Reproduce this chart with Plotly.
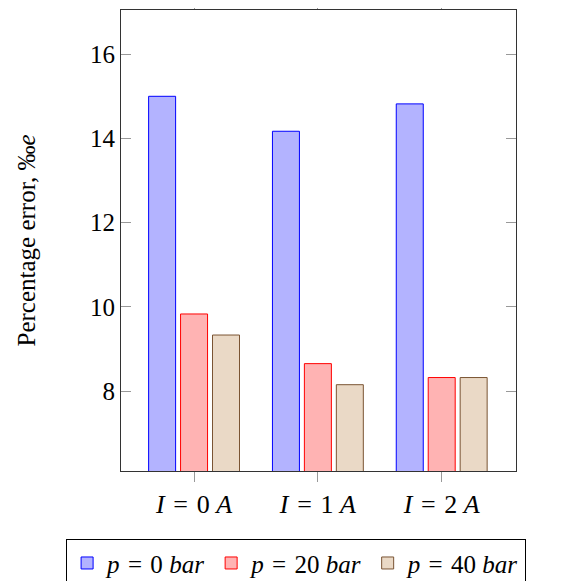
import plotly.graph_objects as go

S = "\u2004"  # three-per-em space, to mimic math spacing around "="
categories = [f"<i>I</i>{S}={S}0 <i>A</i>", f"<i>I</i>{S}={S}1 <i>A</i>", f"<i>I</i>{S}={S}2 <i>A</i>"]
cat_pos = [0, 1, 2]
series_names = [f"<i>p</i>{S}={S}0 <i>bar</i>", f"<i>p</i>{S}={S}20 <i>bar</i>", f"<i>p</i>{S}={S}40 <i>bar</i>"]
p0_values = [15.0, 14.17, 14.82]
p20_values = [9.83, 8.65, 8.32]
p40_values = [9.33, 8.15, 8.32]
y_ticks = [8, 10, 12, 14, 16]
y_title = "Percentage error, ‰<i>e</i>"

fills = ["#b3b3ff", "#ffb3b3", "#ead9c6"]
lines = ["#0000ff", "#ff0000", "#7a5433"]
offsets = [-0.367, -0.109, 0.149]
bar_w = 0.218

FONT = "Liberation Serif"

fig = go.Figure()
for name, vals, fc, lc, off in zip(series_names, [p0_values, p20_values, p40_values], fills, lines, offsets):
    fig.add_trace(go.Bar(
        x=cat_pos, y=vals, name=name, width=bar_w, offset=off,
        marker=dict(color=fc, line=dict(color=lc, width=1)),
    ))

fig.update_layout(
    width=561, height=581,
    margin=dict(l=113, r=53, t=2, b=118, autoexpand=False),
    plot_bgcolor="white", paper_bgcolor="white",
    barmode="overlay",
    font=dict(family=FONT, size=24, color="black"),
    showlegend=True,
    legend=dict(
        orientation="h", x=-0.139, y=-0.148, xanchor="left", yanchor="top",
        bordercolor="black", borderwidth=1, bgcolor="white",
        font=dict(family=FONT, size=25, color="black"),
        traceorder="normal", itemwidth=30,
    ),
)
fig.add_annotation(
    x=-0.238, y=0.5, xref="paper", yref="paper", xanchor="center", yanchor="middle",
    text=y_title, textangle=-90, showarrow=False,
    font=dict(family=FONT, size=25, color="black"),
)
fig.update_xaxes(
    range=[-0.59, 2.6], tickvals=cat_pos, ticktext=categories,
    ticks="outside", ticklen=10, tickcolor="#999999", tickwidth=1,
    showline=True, linecolor="#333333", linewidth=1, mirror="ticks",
    showgrid=False, zeroline=False, automargin=False,
    tickfont=dict(family=FONT, size=26, color="black"),
)
fig.update_yaxes(
    range=[6.1, 17.05], tickvals=y_ticks,
    ticks="inside", ticklen=10, tickcolor="#999999", tickwidth=1,
    showline=True, linecolor="#333333", linewidth=1, mirror="ticks",
    showgrid=False, zeroline=False, automargin=False,
    tickfont=dict(family=FONT, size=25, color="black"),
)
fig.write_html("out.html")
